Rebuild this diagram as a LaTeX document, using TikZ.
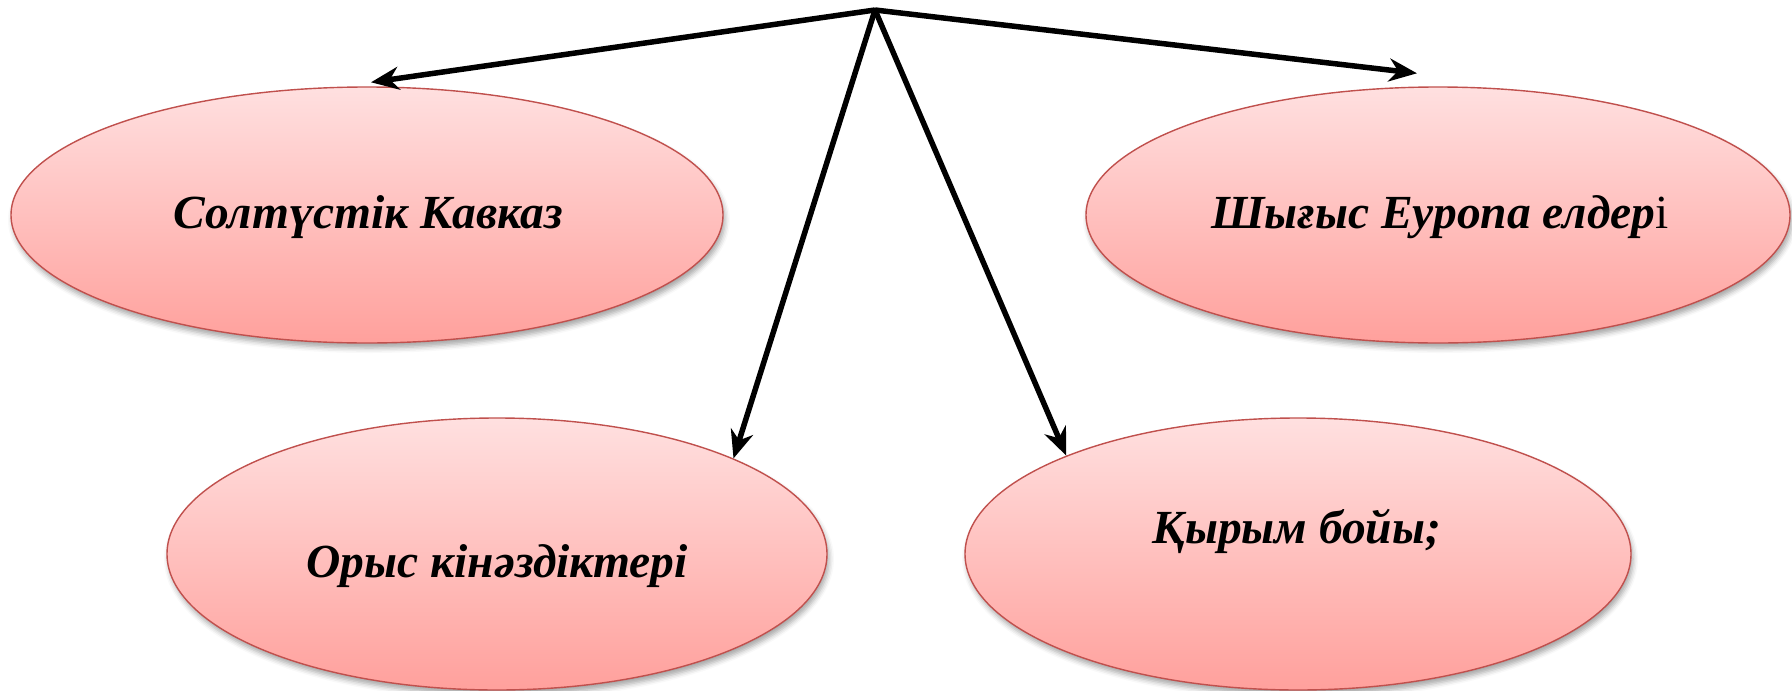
\documentclass[tikz,border=0pt]{standalone}
\usepackage{fontspec}
\setmainfont{Liberation Serif}
\usetikzlibrary{shapes.geometric,arrows.meta,shadows.blur}
\definecolor{ptop}{RGB}{255,224,224}
\definecolor{pbot}{RGB}{255,160,156}
\definecolor{pedge}{RGB}{192,80,77}
\tikzset{
  oval/.style={ellipse, draw=pedge, line width=1.4pt, top color=ptop, bottom color=pbot,
    inner sep=0pt, blur shadow={shadow xshift=2pt, shadow yshift=-5pt, shadow opacity=35, shadow blur radius=5pt}},
  lbl/.style={font=\fontsize{47.5}{54}\selectfont\bfseries\itshape, text=black},
  conn/.style={line width=5.5pt, -{Stealth[length=28pt, width=23pt, inset=9pt]}},
}
\begin{document}
\begin{tikzpicture}[x=1pt,y=-1pt]
\useasboundingbox (0,0) rectangle (1792,691);
\node[oval, minimum width=712pt, minimum height=256pt] (e1) at (367,215) {};
\node[oval, minimum width=704pt, minimum height=256pt] (e2) at (1438,215) {};
\node[oval, minimum width=660pt, minimum height=272pt] (e3) at (497,554) {};
\node[oval, minimum width=666pt, minimum height=272pt] (e4) at (1298,554) {};
\node[lbl] (t1) at (368,217) {Солтүстік Кавказ};
\node[lbl] (t2) at (1440,217) {Шығыс Еуропа елдер{\normalfont\fontsize{47.5}{54}\selectfont і}};
\node[lbl] (t3) at (497,566) {Орыс кінәздіктері};
\node[lbl] (t4) at (1297,531) {Қырым бойы;};
\coordinate (apex) at (875,10);
\draw[conn] (apex) -- ([xshift=4pt,yshift=4pt]e1.north);
\draw[conn] (apex) -- ([xshift=-21pt,yshift=13pt]e2.north);
\draw[conn] (apex) -- (e3.22);
\draw[conn] (apex) -- (e4.157);
\end{tikzpicture}
\end{document}
